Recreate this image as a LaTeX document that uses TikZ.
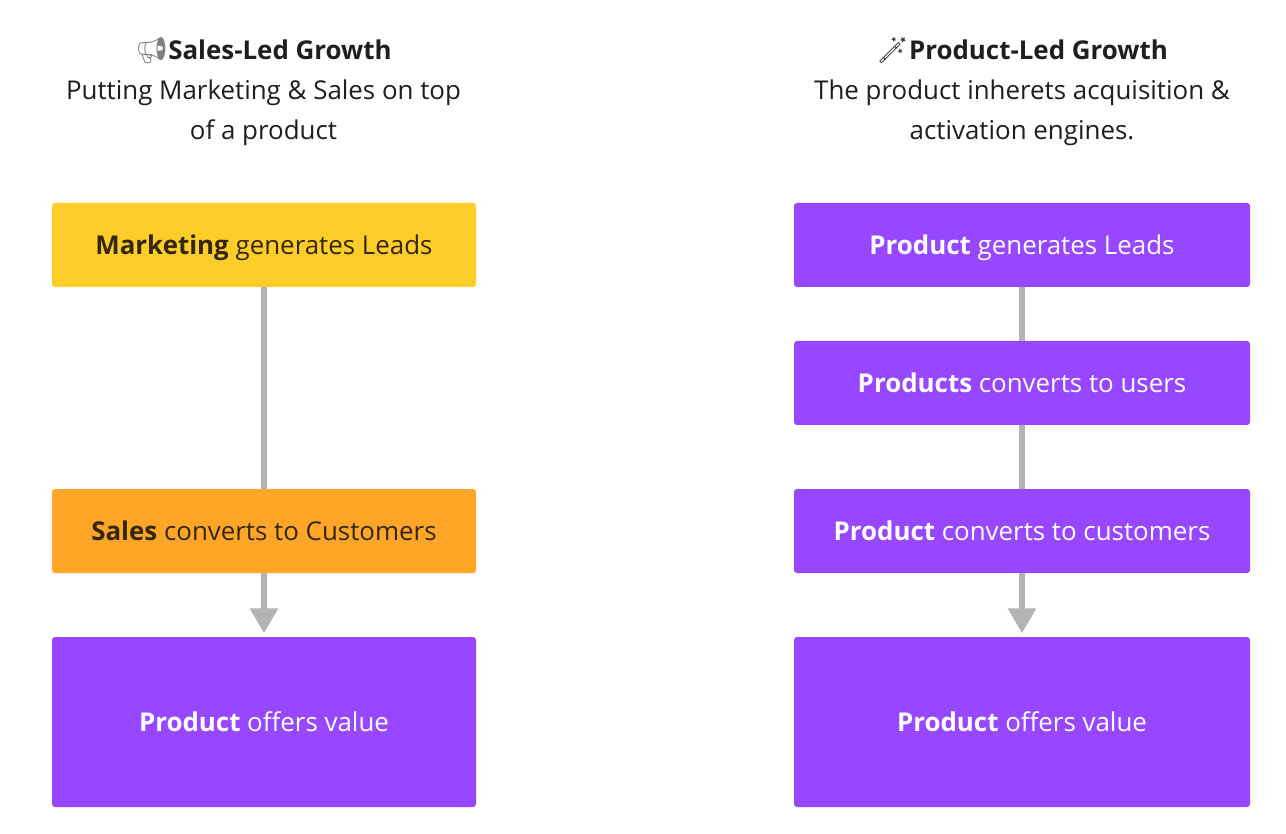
\documentclass[tikz,border=0pt]{standalone}
\usepackage{fontspec}
\setmainfont{Open Sans}
\newfontfamily\emojifont{Noto Emoji}
\usetikzlibrary{arrows.meta}
\definecolor{plgpurple}{HTML}{9747FF}
\definecolor{slgyellow}{HTML}{FFCD29}
\definecolor{slgorange}{HTML}{FFA629}
\definecolor{inkdark}{HTML}{1E1E1E}
\definecolor{inkbrown}{HTML}{33270A}
\definecolor{linkgray}{HTML}{B3B3B3}
\tikzset{
  box/.style={rectangle, rounded corners=3pt, inner sep=0pt, text height=20pt, text depth=1pt, font=\fontsize{25.9}{30}\selectfont},
  purplebox/.style={box, fill=plgpurple, text=white},
  yellowbox/.style={box, fill=slgyellow, text=inkbrown},
  orangebox/.style={box, fill=slgorange, text=inkbrown},
  title/.style={align=center, text=inkdark, inner sep=0pt, font=\fontsize{25.9}{40}\selectfont},
  link/.style={draw=linkgray, line width=6pt},
  linkarrow/.style={link, -{Triangle[length=25pt, width=27pt]}, shorten >=3.5pt},
}
\begin{document}
\begin{tikzpicture}[x=1pt, y=-1pt]
  \useasboundingbox (0,0) rectangle (1286,834);

  \node[title] (slg) at (263.5,92) {{\emojifont\textcolor{gray}{📢}}\textbf{Sales-Led Growth}\\Putting Marketing \& Sales on top\\of a product};
  \node[yellowbox, minimum width=424pt, minimum height=84pt] (mk) at (264,245) {\textbf{Marketing} generates Leads};
  \node[orangebox, minimum width=424pt, minimum height=84pt] (sl) at (264,531) {\textbf{Sales} converts to Customers};
  \node[purplebox, minimum width=424pt, minimum height=170pt] (pl) at (264,722) {\textbf{Product} offers value};
  \draw[link] (mk)--(sl);
  \draw[linkarrow] (sl)--(pl);

  \node[title] (plg) at (1022,92) {{\emojifont\textcolor{darkgray}{🪄}}\textbf{Product-Led Growth}\\The product inherets acquisition \&\\activation engines.};
  \node[purplebox, minimum width=456pt, minimum height=84pt] (pg) at (1022,245) {\textbf{Product} generates Leads};
  \node[purplebox, minimum width=456pt, minimum height=84pt] (pu) at (1022,383) {\textbf{Products} converts to users};
  \node[purplebox, minimum width=456pt, minimum height=84pt] (pc) at (1022,531) {\textbf{Product} converts to customers};
  \node[purplebox, minimum width=456pt, minimum height=170pt] (pv) at (1022,722) {\textbf{Product} offers value};
  \draw[link] (pg)--(pu);
  \draw[link] (pu)--(pc);
  \draw[linkarrow] (pc)--(pv);
\end{tikzpicture}
\end{document}
